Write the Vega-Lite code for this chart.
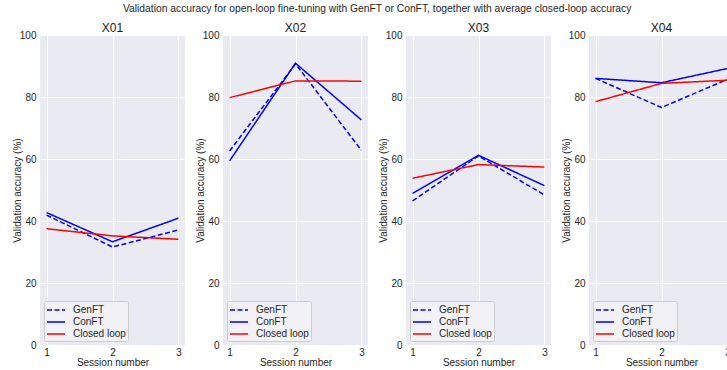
{
  "$schema": "https://vega.github.io/schema/vega-lite/v6.json",
  "background": "white",
  "padding": {"left": 12, "top": 3, "right": 5, "bottom": 5},
  "title": {"text": "Validation accuracy for open-loop fine-tuning with GenFT or ConFT, together with average closed-loop accuracy", "fontSize": 10.3, "fontWeight": "normal", "color": "#262626", "anchor": "middle", "dx": 4, "offset": 8},
  "data": {"values": [
    {"subject": "X01", "session": 1, "series": "GenFT", "accuracy": 41.9},
    {"subject": "X01", "session": 2, "series": "GenFT", "accuracy": 31.6},
    {"subject": "X01", "session": 3, "series": "GenFT", "accuracy": 37.1},
    {"subject": "X01", "session": 1, "series": "ConFT", "accuracy": 42.7},
    {"subject": "X01", "session": 2, "series": "ConFT", "accuracy": 33.3},
    {"subject": "X01", "session": 3, "series": "ConFT", "accuracy": 40.9},
    {"subject": "X01", "session": 1, "series": "Closed loop", "accuracy": 37.5},
    {"subject": "X01", "session": 2, "series": "Closed loop", "accuracy": 35.2},
    {"subject": "X01", "session": 3, "series": "Closed loop", "accuracy": 34.1},
    {"subject": "X02", "session": 1, "series": "GenFT", "accuracy": 62.6},
    {"subject": "X02", "session": 2, "series": "GenFT", "accuracy": 90.7},
    {"subject": "X02", "session": 3, "series": "GenFT", "accuracy": 62.8},
    {"subject": "X02", "session": 1, "series": "ConFT", "accuracy": 59.4},
    {"subject": "X02", "session": 2, "series": "ConFT", "accuracy": 90.9},
    {"subject": "X02", "session": 3, "series": "ConFT", "accuracy": 72.6},
    {"subject": "X02", "session": 1, "series": "Closed loop", "accuracy": 79.8},
    {"subject": "X02", "session": 2, "series": "Closed loop", "accuracy": 85.2},
    {"subject": "X02", "session": 3, "series": "Closed loop", "accuracy": 85.1},
    {"subject": "X03", "session": 1, "series": "GenFT", "accuracy": 46.5},
    {"subject": "X03", "session": 2, "series": "GenFT", "accuracy": 61.0},
    {"subject": "X03", "session": 3, "series": "GenFT", "accuracy": 48.4},
    {"subject": "X03", "session": 1, "series": "ConFT", "accuracy": 48.9},
    {"subject": "X03", "session": 2, "series": "ConFT", "accuracy": 61.2},
    {"subject": "X03", "session": 3, "series": "ConFT", "accuracy": 51.4},
    {"subject": "X03", "session": 1, "series": "Closed loop", "accuracy": 53.8},
    {"subject": "X03", "session": 2, "series": "Closed loop", "accuracy": 58.2},
    {"subject": "X03", "session": 3, "series": "Closed loop", "accuracy": 57.4},
    {"subject": "X04", "session": 1, "series": "GenFT", "accuracy": 86.0},
    {"subject": "X04", "session": 2, "series": "GenFT", "accuracy": 76.6},
    {"subject": "X04", "session": 3, "series": "GenFT", "accuracy": 85.7},
    {"subject": "X04", "session": 1, "series": "ConFT", "accuracy": 86.0},
    {"subject": "X04", "session": 2, "series": "ConFT", "accuracy": 84.6},
    {"subject": "X04", "session": 3, "series": "ConFT", "accuracy": 89.2},
    {"subject": "X04", "session": 1, "series": "Closed loop", "accuracy": 78.5},
    {"subject": "X04", "session": 2, "series": "Closed loop", "accuracy": 84.4},
    {"subject": "X04", "session": 3, "series": "Closed loop", "accuracy": 85.4}
  ]},
  "bounds": "flush",
  "spacing": 38,
  "hconcat": [
    {
      "title": "X01",
      "width": 145, "height": 310,
      "transform": [{"filter": "datum.subject === 'X01'"}],
      "mark": {"type": "line", "strokeWidth": 1.5},
      "encoding": {
        "x": {"field": "session", "type": "quantitative", "title": "Session number", "scale": {"domain": [0.9, 3.1], "nice": false, "zero": false}, "axis": {"values": [1, 2, 3], "format": "d"}},
        "y": {"field": "accuracy", "type": "quantitative", "title": "Validation accuracy (%)", "scale": {"domain": [0, 100], "nice": false}, "axis": {"values": [0, 20, 40, 60, 80, 100]}},
        "color": {"field": "series", "type": "nominal", "scale": {"domain": ["GenFT", "ConFT", "Closed loop"], "range": ["#0000FF", "#0000FF", "#FF0000"]}, "legend": {"title": null}},
        "strokeDash": {"field": "series", "type": "nominal", "scale": {"domain": ["GenFT", "ConFT", "Closed loop"], "range": [[5, 2.5], [1, 0], [1, 0]]}, "legend": {"title": null}}
      }
    },
    {
      "title": "X02",
      "width": 145, "height": 310,
      "transform": [{"filter": "datum.subject === 'X02'"}],
      "mark": {"type": "line", "strokeWidth": 1.5},
      "encoding": {
        "x": {"field": "session", "type": "quantitative", "title": "Session number", "scale": {"domain": [0.9, 3.1], "nice": false, "zero": false}, "axis": {"values": [1, 2, 3], "format": "d"}},
        "y": {"field": "accuracy", "type": "quantitative", "title": "Validation accuracy (%)", "scale": {"domain": [0, 100], "nice": false}, "axis": {"values": [0, 20, 40, 60, 80, 100]}},
        "color": {"field": "series", "type": "nominal", "scale": {"domain": ["GenFT", "ConFT", "Closed loop"], "range": ["#0000FF", "#0000FF", "#FF0000"]}, "legend": {"title": null}},
        "strokeDash": {"field": "series", "type": "nominal", "scale": {"domain": ["GenFT", "ConFT", "Closed loop"], "range": [[5, 2.5], [1, 0], [1, 0]]}, "legend": {"title": null}}
      }
    },
    {
      "title": "X03",
      "width": 145, "height": 310,
      "transform": [{"filter": "datum.subject === 'X03'"}],
      "mark": {"type": "line", "strokeWidth": 1.5},
      "encoding": {
        "x": {"field": "session", "type": "quantitative", "title": "Session number", "scale": {"domain": [0.9, 3.1], "nice": false, "zero": false}, "axis": {"values": [1, 2, 3], "format": "d"}},
        "y": {"field": "accuracy", "type": "quantitative", "title": "Validation accuracy (%)", "scale": {"domain": [0, 100], "nice": false}, "axis": {"values": [0, 20, 40, 60, 80, 100]}},
        "color": {"field": "series", "type": "nominal", "scale": {"domain": ["GenFT", "ConFT", "Closed loop"], "range": ["#0000FF", "#0000FF", "#FF0000"]}, "legend": {"title": null}},
        "strokeDash": {"field": "series", "type": "nominal", "scale": {"domain": ["GenFT", "ConFT", "Closed loop"], "range": [[5, 2.5], [1, 0], [1, 0]]}, "legend": {"title": null}}
      }
    },
    {
      "title": "X04",
      "width": 145, "height": 310,
      "transform": [{"filter": "datum.subject === 'X04'"}],
      "mark": {"type": "line", "strokeWidth": 1.5},
      "encoding": {
        "x": {"field": "session", "type": "quantitative", "title": "Session number", "scale": {"domain": [0.9, 3.1], "nice": false, "zero": false}, "axis": {"values": [1, 2, 3], "format": "d"}},
        "y": {"field": "accuracy", "type": "quantitative", "title": "Validation accuracy (%)", "scale": {"domain": [0, 100], "nice": false}, "axis": {"values": [0, 20, 40, 60, 80, 100]}},
        "color": {"field": "series", "type": "nominal", "scale": {"domain": ["GenFT", "ConFT", "Closed loop"], "range": ["#0000FF", "#0000FF", "#FF0000"]}, "legend": {"title": null}},
        "strokeDash": {"field": "series", "type": "nominal", "scale": {"domain": ["GenFT", "ConFT", "Closed loop"], "range": [[5, 2.5], [1, 0], [1, 0]]}, "legend": {"title": null}}
      }
    }
  ],
  "resolve": {
    "scale": {"x": "independent", "y": "independent", "color": "independent", "strokeDash": "independent"},
    "axis": {"x": "independent", "y": "independent"},
    "legend": {"color": "independent", "strokeDash": "independent"}
  },
  "config": {
    "font": "Liberation Sans",
    "view": {"fill": "#EAEAF2", "stroke": null},
    "axis": {
      "grid": true, "gridColor": "#FFFFFF", "gridWidth": 1, "gridOpacity": 1,
      "domain": false, "ticks": false,
      "labelColor": "#262626", "labelFontSize": 10,
      "titleColor": "#262626", "titleFontSize": 10, "titleFontWeight": "normal"
    },
    "axisX": {"labelPadding": 2, "titlePadding": 0},
    "axisY": {"labelPadding": 4, "titlePadding": -3},
    "legend": {
      "orient": "bottom-left", "offset": 4,
      "fillColor": "#F1F1F6", "strokeColor": "#CCCCCC", "cornerRadius": 2,
      "padding": 2, "labelFontSize": 10, "labelColor": "#262626",
      "symbolSize": 144, "symbolStrokeWidth": 1.5, "symbolType": "M-1.5,0L1.5,0",
      "symbolOffset": 3, "symbolFillColor": "transparent",
      "rowPadding": 0, "labelOffset": 10
    },
    "title": {"fontSize": 12, "fontWeight": "normal", "color": "#1a1a1a", "offset": -5}
  }
}
